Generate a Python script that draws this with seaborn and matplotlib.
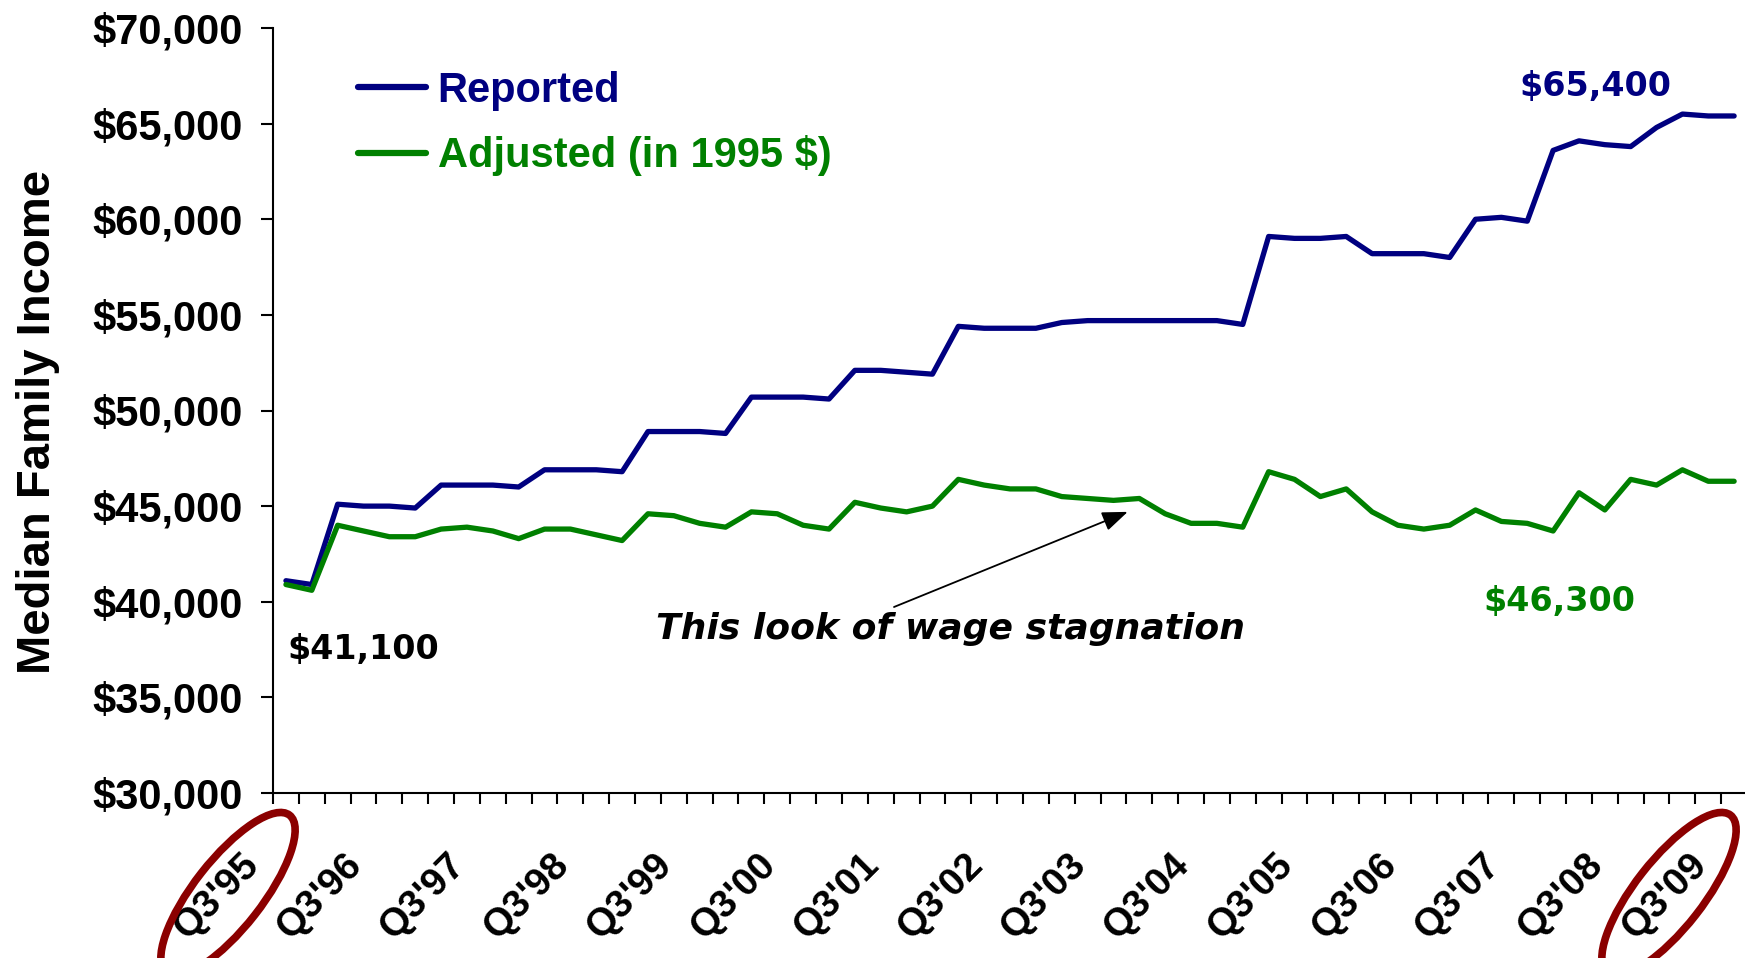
import numpy as np
import pandas as pd
import matplotlib
matplotlib.use("Agg")
import matplotlib.pyplot as plt
import matplotlib.transforms as mtransforms
from matplotlib.patches import Ellipse
from matplotlib.ticker import StrMethodFormatter
import seaborn as sns

# ---------------- data ----------------
reported = [41100, 40900, 45100, 45000, 45000, 44900, 46100, 46100, 46100, 46000,
            46900, 46900, 46900, 46800, 48900, 48900, 48900, 48800, 50700, 50700,
            50700, 50600, 52100, 52100, 52000, 51900, 54400, 54300, 54300, 54300,
            54600, 54700, 54700, 54700, 54700, 54700, 54700, 54500, 59100, 59000,
            59000, 59100, 58200, 58200, 58200, 58000, 60000, 60100, 59900, 63600,
            64100, 63900, 63800, 64800, 65500, 65400, 65400]
adjusted = [40900, 40600, 44000, 43700, 43400, 43400, 43800, 43900, 43700, 43300,
            43800, 43800, 43500, 43200, 44600, 44500, 44100, 43900, 44700, 44600,
            44000, 43800, 45200, 44900, 44700, 45000, 46400, 46100, 45900, 45900,
            45500, 45400, 45300, 45400, 44600, 44100, 44100, 43900, 46800, 46400,
            45500, 45900, 44700, 44000, 43800, 44000, 44800, 44200, 44100, 43700,
            45700, 44800, 46400, 46100, 46900, 46300, 46300]
quarters = [f"Q{(q + 2) % 4 + 1}'{(95 + (q + 2) // 4) % 100:02d}" for q in range(len(reported))]
year_labels = ["Q3'95", "Q3'96", "Q3'97", "Q3'98", "Q3'99", "Q3'00", "Q3'01", "Q3'02",
               "Q3'03", "Q3'04", "Q3'05", "Q3'06", "Q3'07", "Q3'08", "Q3'09"]
series_names = ["Reported", "Adjusted (in 1995 $)"]
end_labels = ["$41,100", "$65,400", "$46,300"]
note_text = "This look of wage stagnation"
y_ticks = [30000, 35000, 40000, 45000, 50000, 55000, 60000, 65000, 70000]

NAVY = "#000080"
GREEN = "#008000"

df = pd.DataFrame({
    "idx": list(range(len(reported))) * 2,
    "quarter": quarters * 2,
    "value": reported + adjusted,
    "series": [series_names[0]] * len(reported) + [series_names[1]] * len(adjusted),
})

# ---------------- style ----------------
sns.set_theme(style="white")
plt.rcParams["font.family"] = ["Liberation Sans", "DejaVu Sans"]
plt.rcParams["font.weight"] = "bold"
for k in ("text.color", "axes.labelcolor", "xtick.color", "ytick.color"):
    plt.rcParams[k] = "black"

W, H = 1745, 958
fig = plt.figure(figsize=(W / 100, H / 100), dpi=100, facecolor="white")
ax = fig.add_axes([273 / W, 1 - 793 / H, (W - 273) / W, (793 - 28) / H])
ax.set_facecolor("white")

sns.lineplot(data=df, x="idx", y="value", hue="series",
             palette={series_names[0]: NAVY, series_names[1]: GREEN},
             linewidth=3.8, ax=ax, sort=False, legend=True)

ax.set_xlim(-0.5, 56.42)
ax.set_ylim(y_ticks[0], y_ticks[-1])

# spines
for s in ["top", "right"]:
    ax.spines[s].set_visible(False)
for s in ["left", "bottom"]:
    ax.spines[s].set_color("black")
    ax.spines[s].set_linewidth(1.5)

# y axis
ax.set_yticks(y_ticks)
ax.yaxis.set_major_formatter(StrMethodFormatter("${x:,.0f}"))
ax.tick_params(axis="y", direction="out", length=9, width=1.5, color="black",
               pad=13, labelsize=30, labelcolor="black", left=True)
for t in ax.get_yticklabels():
    t.set_fontweight("bold")

# x axis: tick at every quarter boundary, label every 4th
xt = [j - 0.5 for j in range(len(reported))]
xl = [year_labels[j // 4] if j % 4 == 0 else "" for j in range(len(reported))]
ax.set_xticks(xt)
ax.set_xticklabels(xl, rotation=45, ha="right", va="center",
                   rotation_mode="anchor", fontsize=28, fontweight="bold", color="black")
ax.tick_params(axis="x", direction="out", length=8, width=1.5, color="black",
               pad=40, bottom=True, labelcolor="black")
offset = mtransforms.ScaledTranslation(-0.20, 0, fig.dpi_scale_trans)
for lbl in ax.get_xticklabels():
    lbl.set_transform(lbl.get_transform() + offset)

ax.set_xlabel("")
ax.set_ylabel("Median Family Income", fontsize=34, fontweight="bold", color="black")
ax.yaxis.set_label_coords((60 - 273) / (W - 273), (793 - 422) / (793 - 28))

# legend
handles, labels = ax.get_legend_handles_labels()
leg = ax.legend(handles, labels, loc="upper left",
                bbox_to_anchor=(358 / W, 1 - 71 / H), bbox_transform=fig.transFigure,
                frameon=False, borderpad=0, borderaxespad=0,
                handlelength=1.64, handletextpad=0.27, labelspacing=0.58,
                prop={"family": "Liberation Sans", "weight": "bold", "size": 30})
for txt, col in zip(leg.get_texts(), [NAVY, GREEN]):
    txt.set_color(col)
for ln in leg.get_lines():
    ln.set_linewidth(4.5)

# value labels
vfont = dict(family="DejaVu Sans", weight="bold", size=24)
fig.text(287 / W, 1 - 649 / H, end_labels[0], color="black", ha="left", va="center", **vfont)
fig.text(1519 / W, 1 - 87 / H, end_labels[1], color=NAVY, ha="left", va="center", **vfont)
fig.text(1483 / W, 1 - 601 / H, end_labels[2], color=GREEN, ha="left", va="center", **vfont)

# annotation
fig.text(951 / W, 1 - 629 / H, note_text, ha="center", va="center",
         family="DejaVu Sans", style="italic", weight="bold", size=26, color="black")
ax.annotate("", xy=(32.55, 44700), xycoords="data",
            xytext=(894 / W, 1 - 607 / H), textcoords="figure fraction",
            arrowprops=dict(arrowstyle="-|>,head_length=1.3,head_width=0.5",
                            color="black", lw=1.3, shrinkA=0, shrinkB=0))

# red ellipses around first/last labels
for cx in (228, 1669):
    e = Ellipse((cx / 100, (H - 894) / 100), width=2.0, height=0.68, angle=52,
                transform=fig.dpi_scale_trans, fill=False,
                edgecolor="#8B0000", linewidth=5.5, clip_on=False)
    fig.patches.append(e)

fig.savefig("out.png", dpi=100, facecolor="white")
